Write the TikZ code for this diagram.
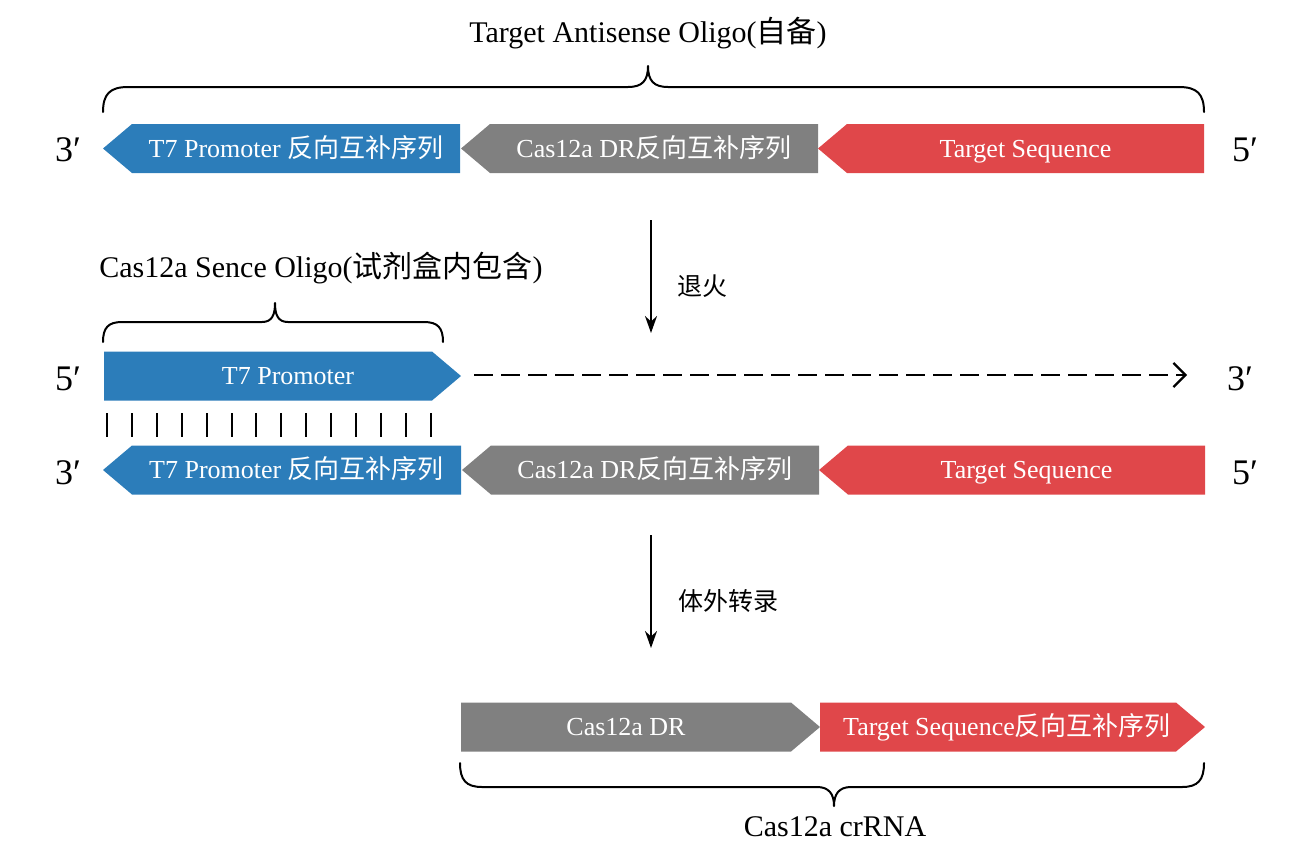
\documentclass[tikz,border=0pt]{standalone}
\usepackage{fontspec}
\setmainfont{Liberation Serif}
\newfontfamily\cjk{Noto Sans CJK SC}
\usetikzlibrary{arrows.meta}
\definecolor{segblue}{RGB}{44,125,186}
\definecolor{seggray}{RGB}{128,128,128}
\definecolor{segred}{RGB}{224,71,74}
\tikzset{
  segtext/.style={text=white,font=\fontsize{26}{30}\selectfont,inner sep=0pt,text height=20pt,text depth=3pt},
  lbl/.style={font=\fontsize{30}{34}\selectfont,inner sep=0pt},
  endlbl/.style={font=\fontsize{36}{40}\selectfont,inner sep=0pt,text height=26pt,text depth=0pt},
  cnlbl/.style={font=\cjk\fontsize{25}{28}\selectfont,inner sep=0pt,anchor=west},
  brace/.style={line width=2pt,line cap=round,line join=round},
  flow/.style={line width=2pt,-{Stealth[length=17pt,width=12pt]}},
  tickline/.style={line width=2pt},
  dashline/.style={line width=2.4pt,dash pattern=on 19pt off 8pt,-{Straight Barb[length=12pt,width=24pt,line width=2.2pt]}}
}
% left-pointing segment: x1 (tip) x2 (flat end) y colour name text
\newcommand\segL[6]{%
  \fill[#4] (#1,#3) -- ({#1+29},{#3-24.5}) -- (#2,{#3-24.5}) -- (#2,{#3+24.5}) -- ({#1+29},{#3+24.5}) -- cycle;
  \node[segtext] (#5) at ({(#1+#2)/2+14.5},#3) {#6};}
% right-pointing segment: x1 (flat end) x2 (tip) y colour name text; #7 = text shift
\newcommand\segR[7]{%
  \fill[#4] (#1,{#3-24.5}) -- ({#2-29},{#3-24.5}) -- (#2,#3) -- ({#2-29},{#3+24.5}) -- (#1,{#3+24.5}) -- cycle;
  \node[segtext] (#5) at ({(#1+#2)/2-14.5+#7},#3) {#6};}
\begin{document}
\begin{tikzpicture}[x=1pt,y=-1pt]
\useasboundingbox (0,0) rectangle (1309,863);
% title
\node[lbl] (title) at (648,33) {Target Antisense Oligo({\cjk 自备})};
\draw[brace] (103,112) .. controls (103,94) and (110,87) .. (128,87) -- (628,87)
  .. controls (642,87) and (648,81) .. (648,66) .. controls (648,81) and (654,87) .. (668,87)
  -- (1179,87) .. controls (1197,87) and (1204,94) .. (1204,112);
% row 1
\node[endlbl] (r1l) at (68,148) {3′};
\node[endlbl] (r1r) at (1245,148) {5′};
\segL{103}{460}{148.5}{segblue}{a1}{T7 Promoter {\cjk 反向互补序列}}
\segL{461}{818}{148.5}{seggray}{a2}{Cas12a DR{\cjk 反向互补序列}}
\segL{818}{1204}{148.5}{segred}{a3}{Target Sequence}
% annealing arrow
\coordinate (f1s) at (651,220);
\coordinate (f1e) at (651,333);
\draw[flow] (f1s) -- (f1e);
\node[cnlbl] (anneal) at (677,286) {退火};
% sence oligo
\node[lbl] (sence) at (321,268) {Cas12a Sence Oligo({\cjk 试剂盒内包含})};
\draw[brace] (103,342) .. controls (103,328) and (108,322) .. (122,322) -- (262,322)
  .. controls (272,322) and (275,315) .. (275,303) .. controls (275,315) and (278,322) .. (288,322)
  -- (424,322) .. controls (438,322) and (443,328) .. (443,342);
% row 2
\node[endlbl] (r2l) at (68,377) {5′};
\node[endlbl] (r2r) at (1240,377) {3′};
\segR{104}{461}{376}{segblue}{b1}{T7 Promoter}{20}
\coordinate (dstart) at (474,375);
\coordinate (dend) at (1187,375);
\draw[dashline] (dstart) -- (dend);
% pairing ticks
\foreach \i in {0,...,13}{
  \draw[tickline] ({107+\i*24.9},413) -- ({107+\i*24.9},437);
}
% row 3
\node[endlbl] (r3l) at (68,471) {3′};
\node[endlbl] (r3r) at (1245,471) {5′};
\segL{103}{461}{470}{segblue}{c1}{T7 Promoter {\cjk 反向互补序列}}
\segL{462}{819}{470}{seggray}{c2}{Cas12a DR{\cjk 反向互补序列}}
\segL{819}{1205}{470}{segred}{c3}{Target Sequence}
% transcription arrow
\coordinate (f2s) at (651,535);
\coordinate (f2e) at (651,648);
\draw[flow] (f2s) -- (f2e);
\node[cnlbl] (ivt) at (678,601) {体外转录};
% crRNA
\segR{461}{820}{727}{seggray}{d1}{Cas12a DR}{0}
\segR{820}{1205}{727}{segred}{d2}{Target Sequence{\cjk 反向互补序列}}{9}
\draw[brace] (460,763) .. controls (460,780) and (466,787) .. (482,787) -- (817,787)
  .. controls (829,787) and (834,794) .. (834,806) .. controls (834,794) and (839,787) .. (851,787)
  -- (1182,787) .. controls (1198,787) and (1204,780) .. (1204,763);
\node[lbl] (crrna) at (835,827) {Cas12a crRNA};
\end{tikzpicture}
\end{document}
